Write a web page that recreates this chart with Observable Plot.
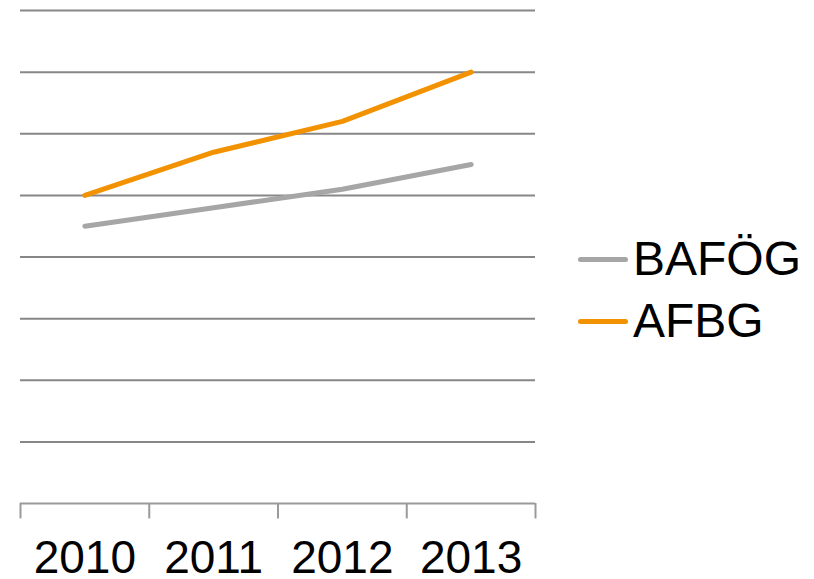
<!DOCTYPE html>
<html>
<head>
<meta charset="utf-8">
<script src="https://cdn.jsdelivr.net/npm/d3@7"></script>
<script src="https://cdn.jsdelivr.net/npm/@observablehq/plot@0.6"></script>
<style>
  body { margin: 0; background: #fff; font-family: "Liberation Sans", Arial, sans-serif; }
  #wrap { position: relative; width: 814px; height: 579px; overflow: hidden; }
  .leg { position: absolute; left: 578px; display: flex; align-items: center; font-size: 48px; color: #000; line-height: 1; }
  .leg .sw { width: 50px; height: 5px; border-radius: 3px; margin-right: 5px; }
</style>
</head>
<body>
<div id="wrap"></div>
<script>
const years = ["2010", "2011", "2012", "2013"];
const bafog = [4.5, 4.8, 5.1, 5.5];
const afbg = [5.0, 5.7, 6.2, 7.0];
const seriesNames = ["BAFÖG", "AFBG"];
const seriesColors = ["#A6A6A6", "#F39200"];
const gridValues = [1, 2, 3, 4, 5, 6, 7, 8];

const data = [];
years.forEach((yr, i) => {
  data.push({i, year: yr, series: seriesNames[0], value: bafog[i]});
  data.push({i, year: yr, series: seriesNames[1], value: afbg[i]});
});
const boundaries = d3.range(years.length + 1).map(k => k - 0.5);

const chart = Plot.plot({
  width: 814,
  height: 579,
  marginLeft: 20,
  marginRight: 279,
  marginTop: 10,
  marginBottom: 76,
  style: {fontFamily: "'Liberation Sans', Arial, sans-serif", background: "#fff"},
  x: {type: "linear", domain: [-0.5, years.length - 0.5], axis: null, label: null},
  y: {type: "linear", domain: [0, 8], axis: null, label: null},
  color: {domain: seriesNames, range: seriesColors},
  marks: [
    Plot.ruleY(gridValues, {y: d => d, stroke: "#878787", strokeWidth: 2}),
    Plot.ruleY([0], {y: d => d, stroke: "#9a9a9a", strokeWidth: 2}),
    Plot.ruleX(boundaries, {x: d => d, y1: 0, y2: -0.25, stroke: "#9a9a9a", strokeWidth: 2}),
    Plot.axisX({ticks: d3.range(years.length), tickFormat: k => years[k], tickSize: 0, tickPadding: 37, fontSize: 46, fill: "#000", anchor: "bottom", label: null}),
    Plot.line(data, {x: "i", y: "value", z: "series", stroke: "series", strokeWidth: 5, strokeLinecap: "round", strokeLinejoin: "round"})
  ]
});
document.getElementById("wrap").appendChild(chart);

seriesNames.forEach((name, k) => {
  const d = document.createElement("div");
  d.className = "leg";
  d.style.top = (k === 0 ? 235 : 297) + "px";
  d.innerHTML = `<span class="sw" style="background:${seriesColors[k]}"></span><span>${name}</span>`;
  document.getElementById("wrap").appendChild(d);
});
</script>
</body>
</html>
